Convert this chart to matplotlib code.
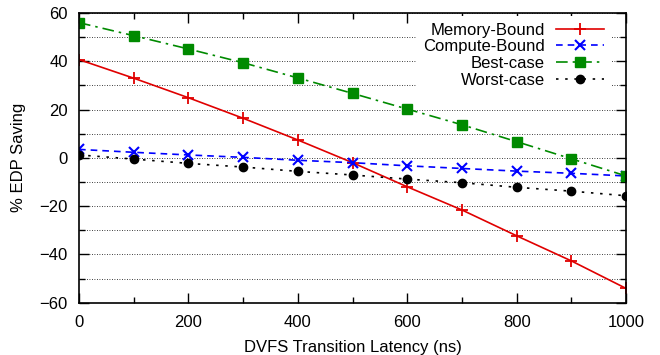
import numpy as np
import matplotlib
matplotlib.use('Agg')
import matplotlib.pyplot as plt
from matplotlib.ticker import MultipleLocator

plt.rcParams['font.family'] = ['Liberation Sans', 'DejaVu Sans']
plt.rcParams['font.size'] = 12

# transition latency (ns)
latency = [0, 100, 200, 300, 400, 500, 600, 700, 800, 900, 1000]

# % EDP saving for each scenario
memory_bound = [40.7, 33.0, 24.9, 16.4, 7.4, -2.0, -12.0, -21.6, -32.3, -42.7, -54.1]
compute_bound = [3.5, 2.3, 1.2, 0.2, -1.0, -2.0, -3.3, -4.4, -5.5, -6.4, -7.5]
best_case = [56.0, 50.6, 45.1, 39.4, 33.1, 26.7, 20.2, 13.7, 6.7, -0.4, -7.5]
worst_case = [1.2, -0.5, -2.3, -3.8, -5.6, -7.1, -8.8, -10.3, -12.2, -13.8, -15.7]

fig = plt.figure(figsize=(6.6, 3.55), dpi=100)
ax = fig.add_axes([0.1197, 0.1473, 0.829, 0.8161])

ax.plot(latency, memory_bound, color='#e00000', lw=1.2, ls='-',
        marker='+', ms=8, mew=1.3, label='Memory-Bound')
ax.plot(latency, compute_bound, color='#0000ff', lw=1.2, ls=(0, (4, 3)),
        marker='x', ms=7, mew=1.5, label='Compute-Bound')
ax.plot(latency, best_case, color='#008a00', lw=1.2, ls=(0, (7, 3, 1.5, 3)),
        marker='s', ms=6.8, label='Best-case')
ax.plot(latency, worst_case, color='black', lw=1.2, ls=(0, (1.5, 4)),
        marker='o', ms=6, label='Worst-case')

ax.set_xlim(0, 1000)
ax.set_ylim(-60, 60)
ax.xaxis.set_major_locator(MultipleLocator(200))
ax.xaxis.set_minor_locator(MultipleLocator(100))
ax.yaxis.set_major_locator(MultipleLocator(20))
ax.yaxis.set_minor_locator(MultipleLocator(10))
ax.tick_params(which='both', direction='in', top=True, right=True, width=1)
ax.tick_params(which='major', length=7)
ax.tick_params(which='minor', length=4)
ax.tick_params(axis='x', which='major', pad=9)
ax.tick_params(axis='y', which='major', pad=8)
ax.grid(True, axis='y', which='both', color='black', ls=(0, (1, 2)), lw=0.6)
for s in ax.spines.values():
    s.set_linewidth(1.2)

ax.set_xlabel('DVFS Transition Latency (ns)', labelpad=7)
ax.set_ylabel('% EDP Saving', labelpad=10)

leg = ax.legend(loc='upper right', bbox_to_anchor=(0.972, 0.99),
                markerfirst=False, frameon=True,
                edgecolor='none', facecolor='white', framealpha=1,
                fancybox=False, handlelength=2.9, handletextpad=0.65,
                labelspacing=0.1, borderpad=0.4, borderaxespad=0.0)

fig.savefig('out.png', dpi=100)
